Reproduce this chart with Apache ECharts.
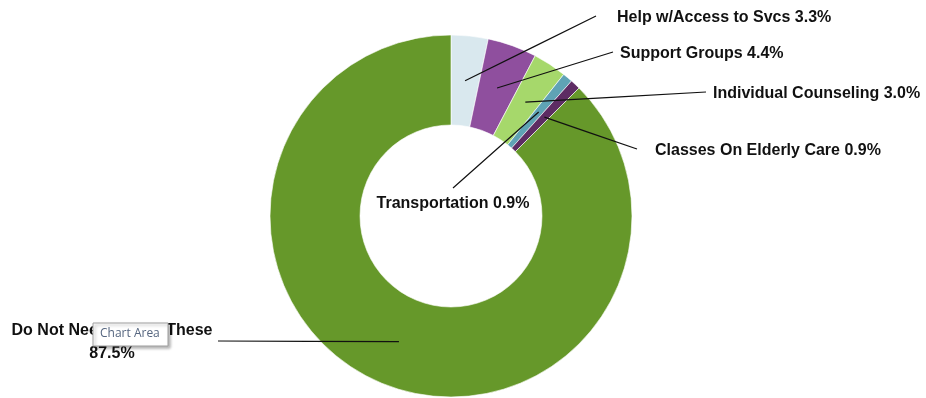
<!DOCTYPE html>
<html><head><meta charset="utf-8">
<script src="https://cdn.jsdelivr.net/npm/echarts@6/dist/echarts.min.js"></script>
<style>html,body{margin:0;padding:0;background:#fff}#c{width:926px;height:398px}</style>
</head><body><div id="c"></div>
<script>
const categories = ['Help w/Access to Svcs', 'Support Groups', 'Individual Counseling', 'Transportation', 'Classes On Elderly Care', 'Do Not Need Any of These'];
const values = [3.3, 4.4, 3.0, 0.9, 0.9, 87.5];
const colors = ['#d9e8ee', '#8f4f9e', '#a6d86b', '#5fa3b5', '#5d2c63', '#66982a'];

// label layout (position of each label, leader line end), kept separate from data
const labelPos = [
  {x: 617, y: 18, align: 'left', end: [596, 16]},
  {x: 620, y: 54, align: 'left', end: [613, 52]},
  {x: 713, y: 94, align: 'left', end: [706, 92]},
  {x: 453, y: 204, align: 'center', end: [453, 188]},
  {x: 655, y: 151, align: 'left', end: [637, 149]},
  {x: 112, y: 342, align: 'center', end: [218, 341]}
];

const CX = 451, CY = 216, R0 = 91, R1 = 181;
const total = values.reduce((a, b) => a + b, 0);
const midAngles = [];
{ let acc = 0; values.forEach(v => { midAngles.push((acc + v / 2) / total * 2 * Math.PI); acc += v; }); }

const FONT = '"Liberation Sans", Arial, sans-serif';
const pieData = categories.map((c, i) => ({name: c, value: values[i], itemStyle: {color: colors[i]}}));

const chart = echarts.init(document.getElementById('c'));
chart.setOption({
  animation: false,
  series: [{
    type: 'pie',
    z: 2,
    center: [CX, CY],
    radius: [R0, R1],
    startAngle: 90,
    clockwise: true,
    silent: true,
    itemStyle: {borderColor: '#ffffff', borderWidth: 0.6},
    data: pieData,
    label: {show: false},
    labelLine: {show: false}
  }, {
    type: 'pie',
    z: 5,
    center: [CX, CY],
    radius: [R0, R1],
    startAngle: 90,
    clockwise: true,
    silent: true,
    avoidLabelOverlap: false,
    itemStyle: {color: 'rgba(0,0,0,0)', borderWidth: 0},
    data: categories.map((c, i) => ({name: c, value: values[i]})),
    label: {
      show: true,
      position: 'outside',
      fontFamily: FONT,
      fontWeight: 'bold',
      fontSize: 16,
      color: '#111',
      opacity: 1,
      lineHeight: 23,
      formatter: p => p.dataIndex === 5 ? p.name + '\n' + p.value.toFixed(1) + '%' : p.name + ' ' + p.value.toFixed(1) + '%'
    },
    labelLine: {show: true, lineStyle: {color: '#111', width: 1.2, opacity: 1}},
    labelLayout: function (params) {
      const i = params.dataIndex;
      const lp = labelPos[i];
      const a = midAngles[i];
      const rm = (R0 + R1) / 2;
      const sx = CX + rm * Math.sin(a), sy = CY - rm * Math.cos(a);
      return {
        x: lp.x, y: lp.y, align: lp.align, verticalAlign: 'middle',
        labelLinePoints: [[sx, sy], [(sx + lp.end[0]) / 2, (sy + lp.end[1]) / 2], lp.end]
      };
    }
  }],
  graphic: [
    {type: 'rect', zlevel: 1, z: 100, shape: {x: 93, y: 323, width: 75, height: 23},
     style: {fill: '#ffffff', stroke: '#a0a0a0', lineWidth: 1, shadowBlur: 3, shadowOffsetX: 2, shadowOffsetY: 2, shadowColor: 'rgba(0,0,0,0.3)'}},
    {type: 'text', zlevel: 1, z: 101, x: 100, y: 328, style: {text: 'Chart Area', fontFamily: '"Open Sans", sans-serif', fontSize: 12, fill: '#55657f'}}
  ]
});
</script></body></html>
